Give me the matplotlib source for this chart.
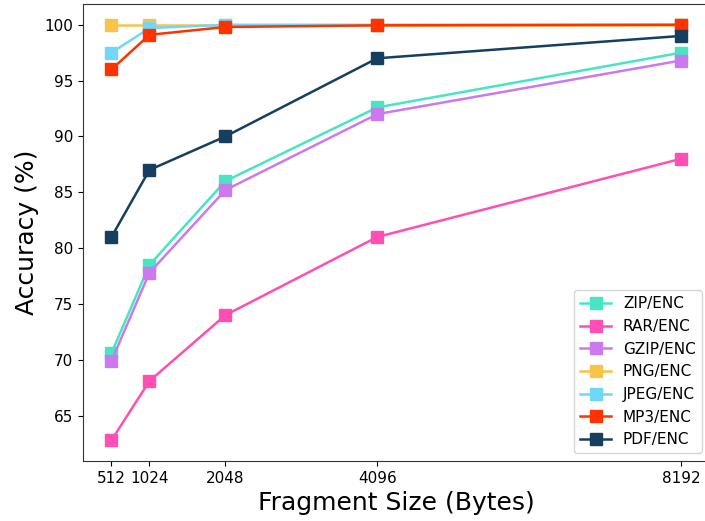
import matplotlib
matplotlib.use("Agg")
import matplotlib.pyplot as plt

fragment_sizes = [512, 1024, 2048, 4096, 8192]

zip_enc = [70.6, 78.5, 86.0, 92.6, 97.5]
rar_enc = [62.8, 68.1, 74.0, 81.0, 88.0]
gzip_enc = [69.9, 77.8, 85.2, 92.0, 96.8]
png_enc = [100.0, 100.0, 100.0, 100.0, 100.0]
jpeg_enc = [97.5, 99.7, 100.0, 100.0, 100.0]
mp3_enc = [96.0, 99.1, 99.8, 99.95, 100.0]
pdf_enc = [81.0, 87.0, 90.0, 97.0, 99.0]

series = [
    ("ZIP/ENC", zip_enc, "#48e5c2"),
    ("RAR/ENC", rar_enc, "#ff4fb4"),
    ("GZIP/ENC", gzip_enc, "#cc79f0"),
    ("PNG/ENC", png_enc, "#f8c348"),
    ("JPEG/ENC", jpeg_enc, "#6fd8f8"),
    ("MP3/ENC", mp3_enc, "#ff3300"),
    ("PDF/ENC", pdf_enc, "#163f5f"),
]

fig = plt.figure(figsize=(7.05, 5.21), dpi=100)
# axes runs slightly past the right edge, as in the cropped original
ax = fig.add_axes([83 / 705, 1 - 461 / 521, 626.5 / 705, 457 / 521])

for name, vals, color in series:
    ax.plot(fragment_sizes, vals, marker="s", markersize=8.5, linewidth=1.8,
            color=color, label=name)

ax.set_xticks(fragment_sizes)
ax.set_xticklabels([str(s) for s in fragment_sizes])
ax.set_xlim(128, 8576)
ax.set_ylim(60.94, 101.86)
ax.tick_params(labelsize=11)
for spine in ax.spines.values():
    spine.set_color("#333333")
ax.set_xlabel("Fragment Size (Bytes)", fontsize=18)
ax.set_ylabel("Accuracy (%)", fontsize=18)
ax.legend(loc="lower right", fontsize=11)

fig.savefig("out.png", dpi=100)
plt.close(fig)
